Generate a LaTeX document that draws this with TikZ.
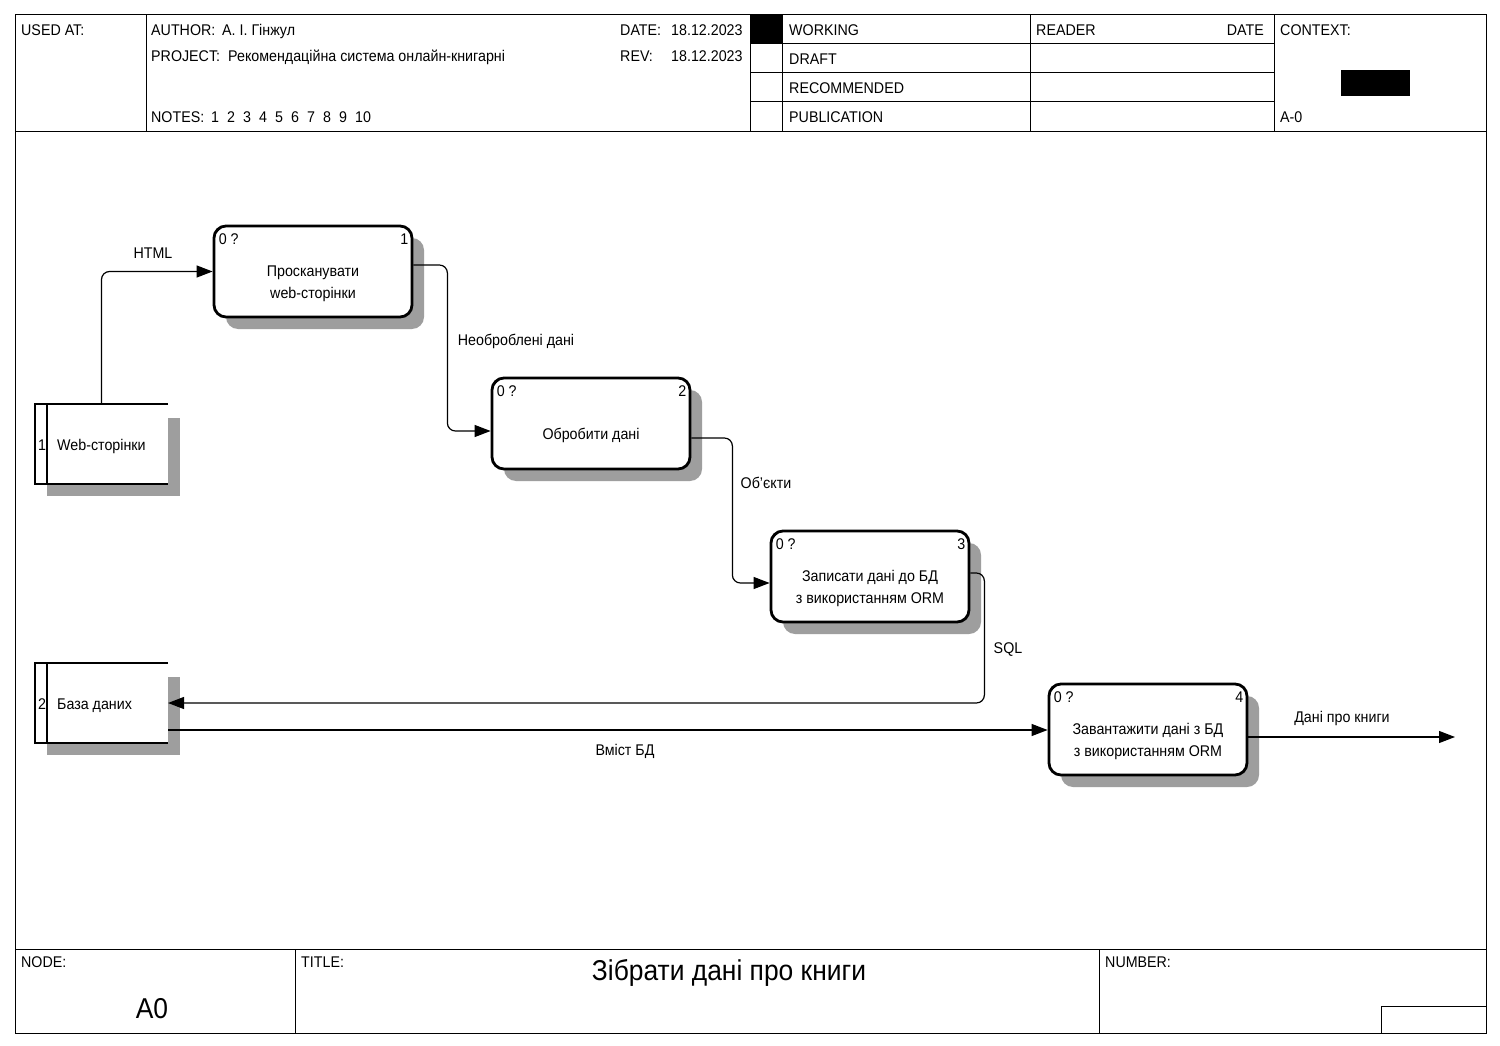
\documentclass[tikz,border=0pt]{standalone}
\usepackage{fontspec}
\setmainfont{Liberation Sans}[FakeStretch=0.92]
\usetikzlibrary{arrows.meta,calc,positioning,shadows}

\tikzset{
  txt/.style={anchor=base west, inner sep=0pt, font=\fontsize{15.5}{18}\selectfont},
  lab/.style={inner sep=0pt, font=\fontsize{15.5}{18}\selectfont},
  proc/.style={draw, line width=2.8pt, rounded corners=12pt, fill=white,
    minimum width=198pt, minimum height=91pt, inner sep=0pt,
    drop shadow={shadow xshift=12pt, shadow yshift=-12pt, fill=black!38, opacity=1}},
  boxtext/.style={lab, align=center, font=\fontsize{15.5}{22}\selectfont},
  store/.style={minimum width=133pt, minimum height=80pt, inner sep=0pt, outer sep=0pt},
  storeline/.style={line width=2.8pt},
  shadowfill/.style={fill=black!38},
  flow/.style={line width=1.2pt, rounded corners=8pt, -{Triangle[length=16pt,width=12pt]}},
  frame/.style={line width=1pt}
}

\begin{document}
\begin{tikzpicture}[x=1pt,y=-1pt]
  \useasboundingbox[fill=white] (0,0) rectangle (1500,1046);

  % form frame, header and footer
  \draw[frame] (15,15) rectangle (1486,1033);
  \draw[frame] (15,132) -- (1486,132);
  \draw[frame] (15,949) -- (1486,949);
  \foreach \xx in {146,750,782,1030,1274} { \draw[frame] (\xx,15) -- (\xx,132); }
  \foreach \yy in {44,73,102} { \draw[frame] (750,\yy) -- (1274,\yy); }
  \foreach \xx in {295,1099} { \draw[frame] (\xx,949) -- (\xx,1033); }
  \draw[frame] (1381,1033) |- (1486,1006);
  \fill (750,15) rectangle (782,44);
  \fill (1341,70) rectangle (1410,96);

  \node[txt] at (21,36) {USED AT:};
  \node[txt] at (151,36) {AUTHOR:};
  \node[txt] at (222,36) {А. І. Гінжул};
  \node[txt] at (151,62) {PROJECT:};
  \node[txt] at (228,62) {Рекомендаційна система онлайн-книгарні};
  \node[txt] at (151,123) {NOTES:};
  \foreach \n [count=\k from 0] in {1,...,10} { \node[txt] at (211+16*\k,123) {\n}; }
  \node[txt] at (620,36) {DATE:};
  \node[txt] at (620,62) {REV:};
  \node[txt] at (671,36) {18.12.2023};
  \node[txt] at (671,62) {18.12.2023};
  \node[txt] at (789,36) {WORKING};
  \node[txt] at (789,65) {DRAFT};
  \node[txt] at (789,94) {RECOMMENDED};
  \node[txt] at (789,123) {PUBLICATION};
  \node[txt] at (1036,36) {READER};
  \node[txt, anchor=base east] at (1264,36) {DATE};
  \node[txt] at (1280,36) {CONTEXT:};
  \node[txt] at (1280,123) {A-0};

  \node[txt] at (21,967) {NODE:};
  \node[txt] at (301,967) {TITLE:};
  \node[txt] at (1105,967) {NUMBER:};
  \node[lab, anchor=base, font=\fontsize{28.7}{34}\selectfont] (nodeid) at (152,1018) {A0};
  \node[lab, anchor=base, font=\fontsize{28.7}{34}\selectfont] (title) at (729,980) {Зібрати дані про книги};

  % activities
  \node[proc] (p1) at (313,271.5) {};
  \node[proc] (p2) at (591,423.5) {};
  \node[proc] (p3) at (870,576.5) {};
  \node[proc] (p4) at (1148,729.5) {};
  \foreach \p/\n in {p1/1,p2/2,p3/3,p4/4} {
    \draw[line width=1.5pt] ([xshift=2pt,yshift=-9pt]\p.north west) -- ([xshift=9pt,yshift=-2pt]\p.north west);
    \node[txt] at ([xshift=6pt,yshift=-20pt]\p.north west) {0 ?};
    \node[txt, anchor=base east] at ([xshift=-5pt,yshift=-20pt]\p.north east) {\n};
  }
  \node[boxtext] at ([yshift=-12pt]p1.center) {Просканувати\\web-сторінки};
  \node[boxtext] at ([yshift=-12pt]p2.center) {Обробити дані};
  \node[boxtext] at ([yshift=-12pt]p3.center) {Записати дані до БД\\з використанням ORM};
  \node[boxtext] at ([yshift=-12pt]p4.center) {Завантажити дані з БД\\з використанням ORM};

  % data stores
  \node[store] (s1) at (101.5,444) {};
  \node[store] (s2) at (101.5,703) {};
  \foreach \s/\n/\t in {s1/1/Web-сторінки,s2/2/База даних} {
    \fill[shadowfill] ([yshift=-14pt]\s.north east) rectangle ([xshift=12pt,yshift=-12pt]\s.south east);
    \fill[shadowfill] ([xshift=12pt]\s.south west) rectangle ([yshift=-12pt]\s.south east);
    \draw[storeline] (\s.north east) -- (\s.north west) -- (\s.south west) -- (\s.south east);
    \draw[storeline] ([xshift=12pt]\s.north west) -- ([xshift=12pt]\s.south west);
    \node[txt] at ([xshift=3pt,yshift=-6pt]\s.west) {\n};
    \node[txt] at ([xshift=22pt,yshift=-6pt]\s.west) {\t};
  }

  % flows
  \coordinate (out) at (1455,737);
  \draw[flow] (s1.north) |- (p1.west);
  \draw[flow] ([yshift=6.5pt]p1.east) -- ++(34,0) |- ([yshift=-7.5pt]p2.west);
  \draw[flow] ([yshift=-14.5pt]p2.east) -- ++(41,0) |- ([yshift=-6.5pt]p3.west);
  \draw[flow] ([yshift=3.5pt]p3.east) -- ++(14,0) |- (s2.east);
  \draw[flow] ([yshift=-27pt]s2.east) -- ([yshift=-27pt]s2.east -| p4.west);
  \draw[flow] ([yshift=-7.5pt]p4.east) -- (out);

  \node[lab] at (153,253) {HTML};
  \node[lab] at (516,341) {Необроблені дані};
  \node[lab] at (766,483) {Об’єкти};
  \node[lab] at (1008,650) {SQL};
  \node[lab] at (625,751) {Вміст БД};
  \node[lab] at (1342,718) {Дані про книги};
\end{tikzpicture}
\end{document}
